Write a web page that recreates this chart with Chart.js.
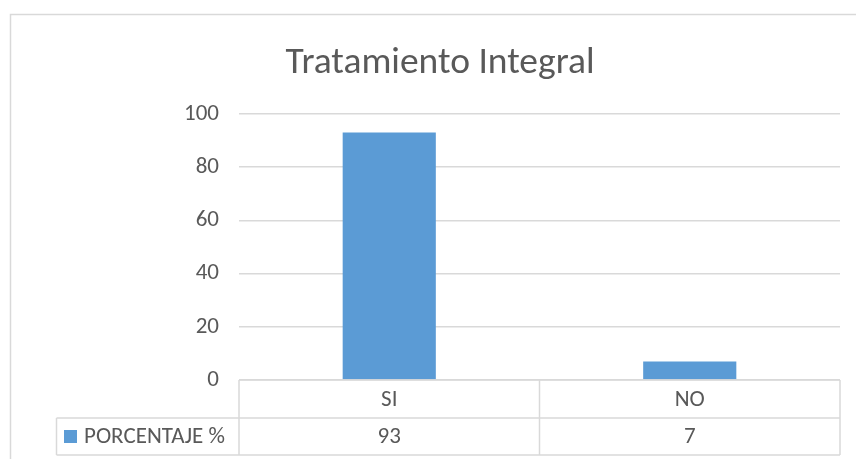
<!DOCTYPE html>
<html>
<head>
<meta charset="utf-8">
<script src="https://cdn.jsdelivr.net/npm/chart.js@4.4.1/dist/chart.umd.min.js"></script>
<style>
  html, body { margin: 0; padding: 0; background: #ffffff; }
  canvas { display: block; }
</style>
</head>
<body>
<canvas id="chart" width="856" height="459"></canvas>
<script>
// Survey result: share of answers per category
const chartTitle = 'Tratamiento Integral';
const categories = ['SI', 'NO'];
const seriesName = 'PORCENTAJE %';
const values = [93, 7];
const yTicks = [0, 20, 40, 60, 80, 100];

const FONT = "Carlito, 'Open Sans', 'Noto Sans', sans-serif";
const TEXT = '#595959';
const LINE = '#d9d9d9';
const BAR = '#5b9bd5';
const LABEL_SIZE = 23;

// Outer frame of the chart object
const framePlugin = {
  id: 'frame',
  beforeDraw(chart) {
    const ctx = chart.ctx;
    ctx.save();
    ctx.fillStyle = '#ffffff';
    ctx.fillRect(0, 0, chart.width, chart.height);
    ctx.strokeStyle = LINE;
    ctx.lineWidth = 1.5;
    ctx.beginPath();
    ctx.moveTo(10.5, chart.height);
    ctx.lineTo(10.5, 14.5);
    ctx.lineTo(chart.width, 14.5);
    ctx.stroke();
    ctx.restore();
  }
};

// Data table under the category axis, with the legend key in its first column
const dataTablePlugin = {
  id: 'dataTable',
  afterDraw(chart) {
    const ctx = chart.ctx;
    const area = chart.chartArea;
    const xs = chart.scales.x;
    const n = categories.length;
    const step = (area.right - area.left) / n;
    const top = area.bottom;
    const mid = top + 38;
    const bottom = top + 75;
    const keyLeft = 56.5;

    ctx.save();
    ctx.strokeStyle = LINE;
    ctx.lineWidth = 1.5;
    ctx.beginPath();
    // horizontal rules
    ctx.moveTo(area.left, top); ctx.lineTo(area.right, top);
    ctx.moveTo(keyLeft, mid); ctx.lineTo(area.right, mid);
    ctx.moveTo(keyLeft, bottom); ctx.lineTo(area.right, bottom);
    // vertical rules
    ctx.moveTo(keyLeft, mid); ctx.lineTo(keyLeft, bottom);
    for (let i = 0; i <= n; i++) {
      const x = area.left + i * step;
      ctx.moveTo(x, top); ctx.lineTo(x, bottom);
    }
    ctx.stroke();

    ctx.fillStyle = TEXT;
    ctx.font = LABEL_SIZE + 'px ' + FONT;
    ctx.textAlign = 'center';
    ctx.textBaseline = 'middle';
    categories.forEach((c, i) => {
      const cx = xs.getPixelForValue(i);
      ctx.fillText(c, cx, (top + mid) / 2 + 1);
      ctx.fillText(String(values[i]), cx, (mid + bottom) / 2 + 1);
    });

    // legend key
    ctx.fillStyle = BAR;
    ctx.fillRect(64, (mid + bottom) / 2 - 6.5, 13, 13);
    ctx.fillStyle = TEXT;
    ctx.textAlign = 'left';
    ctx.fillText(seriesName, 84, (mid + bottom) / 2 + 1);
    ctx.restore();
  }
};

new Chart(document.getElementById('chart'), {
  type: 'bar',
  data: {
    labels: categories,
    datasets: [{
      label: seriesName,
      data: values,
      backgroundColor: BAR,
      borderWidth: 0,
      barPercentage: 0.31,
      categoryPercentage: 1
    }]
  },
  options: {
    responsive: false,
    animation: false,
    devicePixelRatio: 1,
    layout: { padding: { top: 14, left: 40, right: 16, bottom: 71 } },
    plugins: {
      legend: { display: false },
      tooltip: { enabled: false },
      title: {
        display: true,
        text: chartTitle,
        color: TEXT,
        font: { family: FONT, size: 37.5, weight: 'normal' },
        padding: { top: 27, bottom: 28 }
      }
    },
    scales: {
      x: {
        grid: { display: false },
        border: { display: false },
        ticks: { display: false }
      },
      y: {
        min: yTicks[0],
        max: yTicks[yTicks.length - 1],
        afterBuildTicks(scale) {
          scale.ticks = yTicks.map(v => ({ value: v }));
        },
        afterFit(scale) { scale.width = 199; },
        grid: { color: LINE, lineWidth: 1.5, drawTicks: false },
        border: { display: false },
        ticks: {
          color: TEXT,
          padding: 20,
          font: { family: FONT, size: LABEL_SIZE }
        }
      }
    }
  },
  plugins: [framePlugin, dataTablePlugin]
});
</script>
</body>
</html>
